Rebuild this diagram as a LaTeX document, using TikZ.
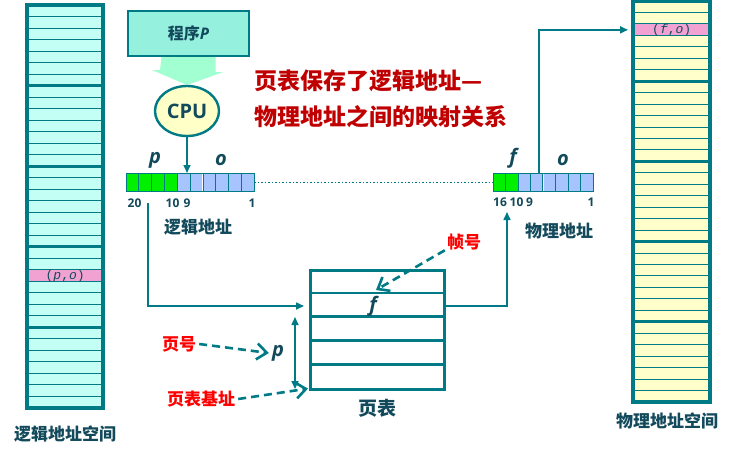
\documentclass[tikz,border=0pt]{standalone}
\usepackage{fontspec}
\setmainfont{Noto Sans CJK SC}
\newfontfamily\lat{Open Sans}
\newfontfamily\mono{Liberation Mono}
\usetikzlibrary{shapes.geometric,arrows.meta}
\definecolor{teal1}{HTML}{007A85}
\definecolor{tdark}{HTML}{124A5C}
\definecolor{lcyan}{HTML}{C4FFF6}
\definecolor{lyel}{HTML}{FFFFCC}
\definecolor{pink1}{HTML}{F2A2D2}
\definecolor{gr}{HTML}{00F000}
\definecolor{bl}{HTML}{A8C4FF}
\definecolor{progc}{HTML}{96F0DE}
\definecolor{mint}{HTML}{A2FFD2}
\definecolor{cpuc}{HTML}{FFFFC8}
\definecolor{dred}{HTML}{C00000}
\tikzset{
 conn/.style={draw=teal1, line width=1.6pt},
 arr/.style={conn, -{Triangle[length=8pt,width=7pt]}},
 dbl/.style={conn, {Triangle[length=8pt,width=7pt]}-{Triangle[length=8pt,width=7pt]}},
 dasharr/.style={draw=teal1, line width=2.6pt, dash pattern=on 8pt off 5pt, -{Straight Barb[length=10pt,width=16pt,line width=2.6pt]}},
 cn/.style={font=\bfseries\fontsize{17}{17}\selectfont, text=tdark, inner sep=0},
 rn/.style={font=\bfseries\fontsize{17}{17}\selectfont, text=red, inner sep=0},
 il/.style={font=\lat\bfseries\itshape\fontsize{20}{20}\selectfont, text=tdark, inner sep=0},
 num/.style={font=\lat\bfseries\fontsize{12}{12}\selectfont, text=tdark, inner sep=0},
 monot/.style={font=\mono\fontsize{13}{13}\selectfont, text=tdark, inner sep=0},
 cell/.style={draw=teal1, line width=1pt},
}
\begin{document}
\begin{tikzpicture}[x=1pt,y=-1pt]
\useasboundingbox (0,0) rectangle (742,456);
\fill[white] (0,0) rectangle (742,456);

% ---------- logical address space ----------
\fill[lcyan] (27,5) rectangle (103,408);
\node[fill=pink1, minimum width=76pt, minimum height=11.5pt, inner sep=0, anchor=north west] (po) at (27,{5+23*403/35}) {};
\foreach \i in {1,...,34}{\draw[teal1,line width=1pt] (27,{5+\i*403/35}) -- (103,{5+\i*403/35});}
\foreach \b in {1,...,4}{\draw[teal1,line width=3.2pt] (27,{5+\b*403/5}) -- (103,{5+\b*403/5});}
\draw[teal1,line width=3.2pt] (27,5) rectangle (103,408);
\node[monot] at ([yshift=-0.5pt]po) {(\textit{p},\textit{o})};
\node[cn] (lspace) at (65,434) {逻辑地址空间};

% ---------- physical address space ----------
\fill[lyel] (633,1) rectangle (710,402);
\node[fill=pink1, minimum width=77pt, minimum height=11.5pt, inner sep=0, anchor=north west] (fo) at (633,{1+2*401/35}) {};
\foreach \i in {1,...,34}{\draw[teal1,line width=1pt] (633,{1+\i*401/35}) -- (710,{1+\i*401/35});}
\foreach \b in {1,...,4}{\draw[teal1,line width=3.2pt] (633,{1+\b*401/5}) -- (710,{1+\b*401/5});}
\draw[teal1,line width=3.2pt] (633,1) rectangle (710,402);
\node[monot] at ([yshift=-0.5pt]fo) {(\textit{f},\textit{o})};
\node[cn] (pspace) at (667,421) {物理地址空间};

% ---------- program and CPU ----------
\node[draw=teal1, line width=2pt, fill=progc, minimum width=121pt, minimum height=45pt, inner sep=0, anchor=north west,
      font=\bfseries\fontsize{16}{16}\selectfont, text=tdark] (prog) at (127,10) {程序\lat\bfseries\itshape P};
\fill[mint] (prog.south) ++(-27,0) -- ++(54,0) -- ++(0,15) -- ++(8,0) -- (187,85) -- (152,70) -- (160,70) -- cycle;
\node[ellipse, draw=teal1, line width=2.4pt, fill=cpuc, minimum width=64pt, minimum height=50pt, inner sep=0,
      font=\lat\bfseries\fontsize{20}{20}\selectfont, text=tdark] (cpu) at (187,111) {CPU};

% ---------- title ----------
\node[anchor=west, inner sep=0, text=dred, font=\bfseries\fontsize{23}{23}\selectfont] (t1) at (254,81) {页表保存了逻辑地址—};
\node[anchor=west, inner sep=0, text=dred, font=\bfseries\fontsize{23}{23}\selectfont] (t2) at (254,117) {物理地址之间的映射关系};

% ---------- logical address register ----------
\node[minimum width=128pt, minimum height=18pt, inner sep=0, anchor=north west] (lreg) at (126,173) {};
\foreach \i in {0,...,9}{
  \pgfmathsetmacro\cc{\i<4 ? "gr" : "bl"}
  \draw[cell, fill=\cc] ({126+\i*12.8},173) rectangle ({126+(\i+1)*12.8},191);
}
\draw[teal1, line width=2.6pt] (202.8,173) -- (202.8,191);
\draw[white, line width=0.8pt] (202.8,173.5) -- (202.8,190.5);
\node[il] (pl) at (155,160) {p};
\node[il] (ol) at (221,160) {o};
\node[num] at (134.5,203) {20};
\node[num] at (172.5,203) {10};
\node[num] at (187,203) {9};
\node[num] at (252,203) {1};
\node[cn] (laddr) at (198,227) {逻辑地址};

% ---------- physical address register ----------
\node[minimum width=100pt, minimum height=18pt, inner sep=0, anchor=north west] (rreg) at (493,173) {};
\foreach \i in {0,...,7}{
  \pgfmathsetmacro\cc{\i<2 ? "gr" : "bl"}
  \draw[cell, fill=\cc] ({493+\i*12.5},173) rectangle ({493+(\i+1)*12.5},191);
}
\draw[teal1, line width=2.6pt] (543,173) -- (543,191);
\draw[white, line width=0.8pt] (543,173.5) -- (543,190.5);
\node[il] (fl2) at (513,158) {f};
\node[il] (or) at (563,160) {o};
\node[num] at (500,202) {16};
\node[num] at (516.5,202) {10};
\node[num] at (529.5,202) {9};
\node[num] at (591,202) {1};
\node[cn] (paddr) at (559,231) {物理地址};

\draw[teal1, line width=1.3pt, dash pattern=on 1.3pt off 2.2pt] (lreg.east) -- (rreg.west);

% ---------- page table ----------
\node[draw=teal1, line width=2.6pt, minimum width=134pt, minimum height=119pt, inner sep=0, anchor=north west] (pt) at (309,269) {};
\foreach \k in {1,...,4}{\draw[teal1, line width=2.6pt] (309,{269+\k*23.8}) -- (443,{269+\k*23.8});}
\coordinate (r2w) at (309,306);
\coordinate (r2e) at (443,306);
\node[il] (fpt) at (373,306) {f};
\node[cn, font=\bfseries\fontsize{19}{19}\selectfont] (ptl) at (377,408) {页表};

% ---------- connectors ----------
\draw[arr] (cpu) -- (cpu.south |- lreg.north);
\coordinate (ls) at (148,203);
\draw[arr] (ls) |- ([xshift=-5pt]r2w);
\coordinate (rs) at (507,212);
\draw[arr] (r2e) -| (rs);
\coordinate (rt) at (539,173);
\draw[arr] (rt) |- ([xshift=-5pt]fo.west);

\coordinate (va) at (295,317);
\coordinate (vb) at (295,389);
\draw[dbl] (va) -- (vb);
\node[il] (pp) at (278,353) {p};

% ---------- labels with dashed arrows ----------
\node[rn] (yh) at (179,344) {页号};
\node[rn] (yb) at (201,399) {页表基址};
\node[rn] (zh) at (464,242) {帧号};
\draw[dasharr] ([xshift=3pt]yh.east) -- ([xshift=-3pt]pp.west);
\draw[dasharr] ([xshift=3pt]yb.east) -- ([xshift=-1pt,yshift=2pt]pt.south west);
\draw[dasharr] ([xshift=-2pt]zh.south west) -- (376,290);
\end{tikzpicture}
\end{document}
